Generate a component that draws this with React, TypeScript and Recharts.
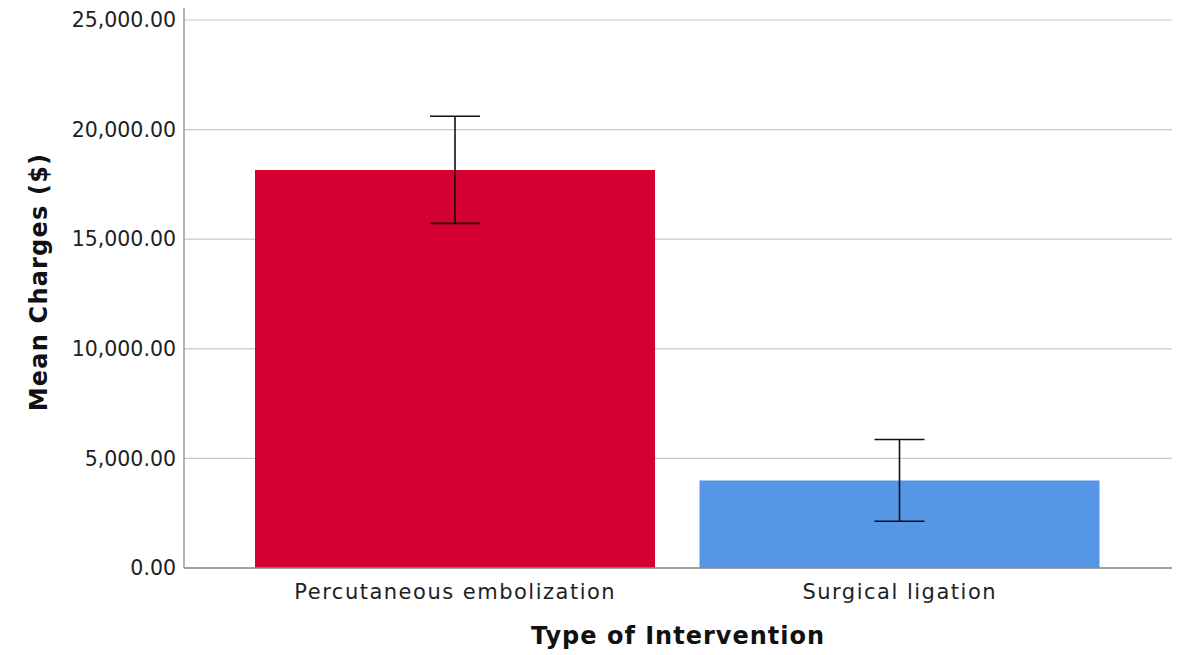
import { BarChart, Bar, XAxis, YAxis, CartesianGrid, ErrorBar, Cell, Label } from "recharts";

// values
const categories = ["Percutaneous embolization", "Surgical ligation"];
const meanCharges = [18160, 3990];
const ciLower = [15720, 2130];
const ciUpper = [20610, 5860];
const barColors = ["#d50032", "#5596e6"];
const yTicks = [0, 5000, 10000, 15000, 20000, 25000];

const xTitle = "Type of Intervention";
const yTitle = "Mean Charges ($)";

const data = categories.map((name, i) => ({
  name,
  mean: meanCharges[i],
  err: [meanCharges[i] - ciLower[i], ciUpper[i] - meanCharges[i]],
}));

const FONT = "'DejaVu Sans', sans-serif";

const fmt = (v: number) =>
  v.toLocaleString("en-US", { minimumFractionDigits: 2, maximumFractionDigits: 2 });

export default function App() {
  return (
    <div style={{ width: 1175, height: 645, fontFamily: FONT }}>
      <BarChart
        width={1175}
        height={645}
        data={data}
        margin={{ top: 0, right: 11, bottom: 0, left: 0 }}
      >
        <CartesianGrid
          vertical={false}
          horizontalValues={yTicks}
          stroke="#c8c8c8"
          strokeWidth={1.2}
        />
        <YAxis
          width={176}
          domain={[0, 25000]}
          ticks={yTicks}
          padding={{ top: 12 }}
          tickFormatter={fmt}
          axisLine={{ stroke: "#9a9a9a", strokeWidth: 1.5 }}
          tickLine={false}
          tickMargin={2}
          tick={{ fill: "#1e1e1e", fontSize: 20.5, fontFamily: FONT }}
        >
          <Label
            content={({ viewBox }: any) => {
              const cx = viewBox.x + 39;
              const cy = viewBox.y + viewBox.height / 2 - 6;
              return (
                <text
                  x={cx}
                  y={cy}
                  transform={`rotate(-90 ${cx} ${cy})`}
                  textAnchor="middle"
                  fontSize={24}
                  fontWeight="bold"
                  letterSpacing={1.2}
                  fill="#111"
                  fontFamily={FONT}
                >
                  {yTitle}
                </text>
              );
            }}
          />
        </YAxis>
        <XAxis
          dataKey="name"
          height={85}
          padding={{ left: 49, right: 50 }}
          axisLine={{ stroke: "#8a8a8a", strokeWidth: 1.5 }}
          tickLine={false}
          tickMargin={10}
          tick={{ fill: "#1e1e1e", fontSize: 21, fontFamily: FONT, letterSpacing: 1.5 }}
        >
          <Label
            value={xTitle}
            position="insideBottom"
            offset={9}
            style={{ fontSize: 24, fontWeight: "bold", fill: "#111", letterSpacing: 1, fontFamily: FONT }}
          />
        </XAxis>
        <Bar dataKey="mean" barSize={400} isAnimationActive={false}>
          {data.map((d, i) => (
            <Cell key={d.name} fill={barColors[i]} />
          ))}
          <ErrorBar dataKey="err" width={25} stroke="#111" strokeWidth={1.6} />
        </Bar>
      </BarChart>
    </div>
  );
}
